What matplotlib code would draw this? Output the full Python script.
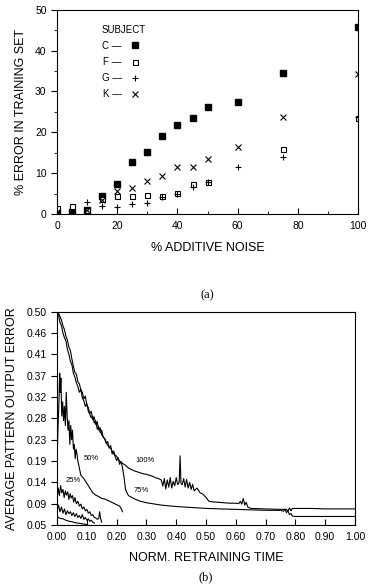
import numpy as np
import matplotlib.pyplot as plt

plt.rcParams['font.family'] = ['Liberation Sans', 'DejaVu Sans']

# ---- (a) error in training set vs additive noise ----
noise = [0, 5, 10, 15, 20, 25, 30, 35, 40, 45, 50, 60, 75, 100]
err_C = [0.3, 0.6, 0.9, 4.3, 7.3, 12.7, 15.2, 19.0, 21.8, 23.6, 26.3, 27.3, 34.6, 45.8]
err_F = [1.4, 2.0, 1.0, 3.6, 4.4, 4.4, 4.7, 4.4, 5.1, 7.3, 7.8, np.nan, 16.0, 23.5]
err_G = [0.4, 0.3, 3.0, 2.0, 1.7, 2.4, 2.8, 4.2, 5.0, 6.5, 7.8, 11.4, 14.0, 23.8]
err_K = [0.5, 0.5, 1.0, 3.4, 5.7, 6.3, 8.1, 9.4, 11.4, 11.4, 13.4, 16.5, 23.7, 34.2]
subjects = ['C', 'F', 'G', 'K']

# ---- (b) average pattern output error vs normalised retraining time ----
t100 = [0.000, 0.005, 0.010, 0.015, 0.020, 0.025, 0.030, 0.035, 0.040, 0.045,
        0.050, 0.055, 0.060, 0.065, 0.070, 0.075, 0.080, 0.085, 0.090, 0.095,
        0.100, 0.105, 0.110, 0.115, 0.120, 0.125, 0.130, 0.135, 0.140, 0.145,
        0.150, 0.160, 0.170, 0.180, 0.190, 0.200, 0.210, 0.220, 0.230, 0.240,
        0.250, 0.260, 0.270, 0.280, 0.290, 0.300, 0.310, 0.320, 0.330, 0.340,
        0.350, 0.355, 0.360, 0.365, 0.370, 0.375, 0.380, 0.385, 0.390, 0.395,
        0.400, 0.405, 0.410, 0.413, 0.416, 0.420, 0.425, 0.430, 0.435, 0.440,
        0.445, 0.450, 0.455, 0.460, 0.470, 0.480, 0.490, 0.500, 0.510, 0.520,
        0.540, 0.560, 0.580, 0.600, 0.610, 0.615, 0.620, 0.625, 0.630, 0.635,
        0.640, 0.650, 0.700, 0.750, 0.770, 0.775, 0.780, 0.785, 0.790, 0.800,
        0.850, 0.900, 0.950, 1.000]
e100 = [0.500, 0.497, 0.490, 0.482, 0.470, 0.462, 0.448, 0.440, 0.425, 0.418,
        0.400, 0.385, 0.372, 0.368, 0.352, 0.348, 0.335, 0.330, 0.316, 0.322,
        0.303, 0.298, 0.285, 0.290, 0.272, 0.278, 0.262, 0.268, 0.250, 0.255,
        0.240, 0.232, 0.218, 0.212, 0.200, 0.195, 0.185, 0.180, 0.176, 0.170,
        0.167, 0.164, 0.162, 0.160, 0.158, 0.157, 0.155, 0.153, 0.150, 0.148,
        0.145, 0.132, 0.148, 0.126, 0.145, 0.130, 0.150, 0.128, 0.142, 0.133,
        0.150, 0.135, 0.140, 0.196, 0.138, 0.135, 0.148, 0.130, 0.146, 0.128,
        0.140, 0.125, 0.136, 0.122, 0.128, 0.118, 0.115, 0.108, 0.100, 0.099,
        0.098, 0.097, 0.096, 0.096, 0.095, 0.100, 0.094, 0.106, 0.092, 0.098,
        0.088, 0.085, 0.084, 0.083, 0.083, 0.079, 0.086, 0.080, 0.085, 0.085,
        0.085, 0.084, 0.084, 0.084]

t75 = [0.000, 0.005, 0.010, 0.015, 0.020, 0.025, 0.030, 0.035, 0.040, 0.045,
       0.050, 0.055, 0.060, 0.065, 0.070, 0.075, 0.080, 0.085, 0.090, 0.095,
       0.100, 0.105, 0.110, 0.115, 0.120, 0.125, 0.130, 0.135, 0.140, 0.145,
       0.150, 0.155, 0.160, 0.165, 0.170, 0.175, 0.180, 0.185, 0.190, 0.195,
       0.200, 0.205, 0.210, 0.215, 0.220, 0.225, 0.230, 0.235, 0.240, 0.260,
       0.280, 0.300, 0.350, 0.400, 0.450, 0.500, 0.550, 0.600, 0.650, 0.700,
       0.750, 0.760, 0.765, 0.770, 0.775, 0.780, 0.785, 0.790, 0.800, 0.850,
       0.900, 0.950, 1.000]
e75 = [0.500, 0.492, 0.478, 0.470, 0.455, 0.445, 0.438, 0.420, 0.410, 0.395,
       0.388, 0.370, 0.362, 0.350, 0.342, 0.330, 0.336, 0.318, 0.312, 0.300,
       0.306, 0.290, 0.284, 0.276, 0.280, 0.265, 0.270, 0.252, 0.258, 0.245,
       0.250, 0.235, 0.232, 0.222, 0.226, 0.212, 0.218, 0.200, 0.206, 0.195,
       0.186, 0.192, 0.178, 0.184, 0.170, 0.150, 0.125, 0.118, 0.112, 0.105,
       0.100, 0.097, 0.092, 0.089, 0.087, 0.085, 0.084, 0.083, 0.082, 0.081,
       0.081, 0.079, 0.083, 0.076, 0.080, 0.072, 0.074, 0.069, 0.068, 0.068,
       0.068, 0.068, 0.068]

t50 = [0.000, 0.003, 0.006, 0.009, 0.011, 0.013, 0.016, 0.019, 0.022, 0.025,
       0.028, 0.031, 0.034, 0.037, 0.040, 0.043, 0.046, 0.049, 0.052, 0.055,
       0.058, 0.061, 0.064, 0.067, 0.070, 0.075, 0.080, 0.090, 0.100, 0.110,
       0.120, 0.130, 0.140, 0.150, 0.160, 0.170, 0.180, 0.190, 0.200, 0.210,
       0.215, 0.220]
e50 = [0.180, 0.250, 0.300, 0.370, 0.330, 0.360, 0.280, 0.310, 0.270, 0.300,
       0.260, 0.330, 0.280, 0.250, 0.270, 0.220, 0.260, 0.230, 0.250, 0.210,
       0.220, 0.190, 0.210, 0.200, 0.185, 0.170, 0.155, 0.148, 0.138, 0.128,
       0.118, 0.113, 0.110, 0.106, 0.105, 0.102, 0.099, 0.096, 0.093, 0.090,
       0.085, 0.078]

t25 = [0.000, 0.004, 0.008, 0.012, 0.016, 0.020, 0.024, 0.028, 0.032, 0.036,
       0.040, 0.044, 0.048, 0.052, 0.056, 0.060, 0.065, 0.070, 0.075, 0.080,
       0.085, 0.090, 0.095, 0.100, 0.105, 0.110, 0.115, 0.120, 0.125, 0.130,
       0.135, 0.140, 0.143, 0.146, 0.150]
e25 = [0.105, 0.128, 0.112, 0.133, 0.118, 0.125, 0.108, 0.122, 0.113, 0.120,
       0.104, 0.116, 0.107, 0.112, 0.098, 0.108, 0.095, 0.100, 0.090, 0.094,
       0.084, 0.088, 0.080, 0.083, 0.075, 0.078, 0.070, 0.072, 0.066, 0.065,
       0.062, 0.064, 0.078, 0.065, 0.056]

t10 = [0.000, 0.005, 0.010, 0.015, 0.020, 0.025, 0.030, 0.035, 0.040, 0.045,
       0.050, 0.055, 0.060, 0.065, 0.070, 0.075, 0.080, 0.085, 0.090, 0.095,
       0.100, 0.105, 0.110, 0.115, 0.120, 0.125]
e10 = [0.080, 0.092, 0.078, 0.088, 0.075, 0.084, 0.072, 0.080, 0.074, 0.078,
       0.070, 0.076, 0.068, 0.074, 0.066, 0.070, 0.064, 0.072, 0.062, 0.066,
       0.060, 0.063, 0.058, 0.060, 0.056, 0.054]

t5 = [0.000, 0.010, 0.020, 0.030, 0.040, 0.050, 0.060, 0.070, 0.080, 0.090, 0.100]
e5 = [0.068, 0.064, 0.063, 0.060, 0.058, 0.057, 0.055, 0.054, 0.053, 0.052, 0.051]

curve_labels = ['100%', '75%', '50%', '25%']
label_pos = [(0.295, 0.186), (0.284, 0.122), (0.116, 0.191), (0.055, 0.143)]

yticks_b = [0.05, 0.095, 0.14, 0.185, 0.23, 0.275, 0.32, 0.365, 0.41, 0.455, 0.50]
yticklabels_b = ['0.05', '0.09', '0.14', '0.19', '0.23', '0.28', '0.32', '0.37',
                 '0.41', '0.46', '0.50']

fig = plt.figure(figsize=(3.69, 5.87), dpi=100)

# ---------- panel (a) ----------
ax1 = fig.add_axes([0.1545, 0.6354, 0.816, 0.348])
h1, = ax1.plot(noise, err_C, linestyle='none', marker='s', ms=4.2, color='black')
h2, = ax1.plot(noise, err_F, linestyle='none', marker='s', ms=3.6, mfc='white',
               mec='black', mew=0.8)
h3, = ax1.plot(noise, err_G, linestyle='none', marker='+', ms=4.5, color='black', mew=0.8)
h4, = ax1.plot(noise, err_K, linestyle='none', marker='x', ms=3.8, color='black', mew=0.8)
ax1.set_xlim(0, 100)
ax1.set_ylim(0, 50)
ax1.set_xticks(range(0, 101, 20))
ax1.set_xticks(range(0, 101, 10), minor=True)
ax1.set_yticks(range(0, 51, 10))
ax1.set_yticks(range(0, 51, 5), minor=True)
ax1.tick_params(axis='x', direction='in', labelsize=7.5, length=4, pad=5)
ax1.tick_params(axis='x', which='minor', direction='in', length=2.5)
ax1.tick_params(axis='y', direction='out', labelsize=7.5, length=4)
ax1.tick_params(axis='y', which='minor', direction='out', length=2.5)
ax1.set_xlabel('% ADDITIVE NOISE', fontsize=9, labelpad=8)
ax1.set_ylabel('% ERROR IN TRAINING SET', fontsize=9, labelpad=6)
leg = ax1.legend([h1, h2, h3, h4], [s + ' \u2014' for s in subjects], title='SUBJECT',
                 markerfirst=False, frameon=False, loc='upper left',
                 bbox_to_anchor=(0.135, 0.945), fontsize=7, title_fontsize=7,
                 alignment='left', handlelength=0.8, handletextpad=1.0,
                 labelspacing=0.62, borderaxespad=0)
ax1.text(0.5, -0.40, '(a)', transform=ax1.transAxes, ha='center', va='center',
         fontsize=9, family=['Liberation Serif', 'DejaVu Serif'])

# ---------- panel (b) ----------
ax2 = fig.add_axes([0.1545, 0.1056, 0.8076, 0.3634])
lw = 0.8
for tt, ee in [(t100, e100), (t75, e75), (t50, e50), (t25, e25), (t10, e10), (t5, e5)]:
    ax2.plot(tt, ee, color='black', lw=lw)
for lab, (x, y) in zip(curve_labels, label_pos):
    ax2.text(x, y, lab, fontsize=5.5, ha='center', va='center')
ax2.set_xlim(0, 1)
ax2.set_ylim(0.05, 0.50)
ax2.set_xticks(np.round(np.arange(0, 1.01, 0.1), 2))
ax2.set_xticklabels(['%.2f' % v for v in np.arange(0, 1.01, 0.1)])
ax2.set_yticks(yticks_b)
ax2.set_yticklabels(yticklabels_b)
ax2.tick_params(axis='x', direction='in', labelsize=7.5, length=4, pad=5)
ax2.tick_params(axis='y', direction='out', labelsize=7.5, length=4)
ax2.set_xlabel('NORM. RETRAINING TIME', fontsize=9, labelpad=7)
ax2.set_ylabel('AVERAGE PATTERN OUTPUT ERROR', fontsize=9, labelpad=6)
ax2.text(0.5, -0.245, '(b)', transform=ax2.transAxes, ha='center', va='center',
         fontsize=9, family=['Liberation Serif', 'DejaVu Serif'])

fig.savefig('out.png', dpi=100)
